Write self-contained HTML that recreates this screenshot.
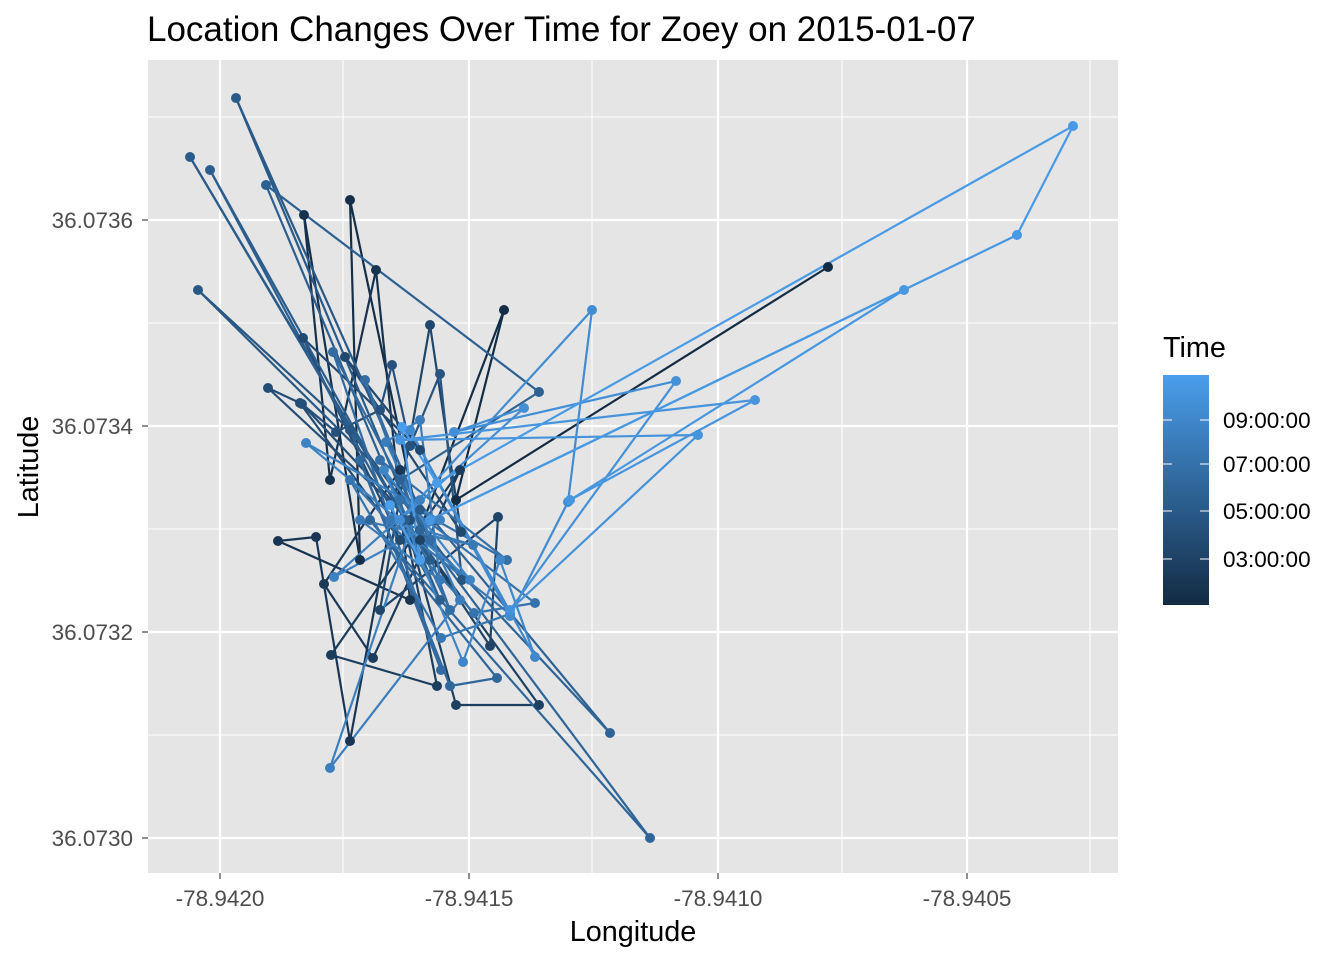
<!DOCTYPE html>
<html><head><meta charset="utf-8">
<style>
html,body{margin:0;padding:0;background:#fff;}
svg{display:block;font-family:"Liberation Sans",Arial,sans-serif;}
</style></head>
<body>
<svg id="c" width="1344" height="960" viewBox="0 0 1344 960" xmlns="http://www.w3.org/2000/svg">
<defs>
<linearGradient id="g" x1="0" y1="1" x2="0" y2="0">
<stop offset="0" stop-color="#132B43"/><stop offset="1" stop-color="#4A9EEC"/>
</linearGradient>
</defs>
<text x="147" y="41" font-size="35" fill="#000">Location Changes Over Time for Zoey on 2015-01-07</text>
<rect x="148" y="60" width="970" height="813" fill="#E5E5E5"/>
<g stroke="#fff" stroke-width="1.1">
<line x1="148" x2="1118" y1="117" y2="117"/><line x1="148" x2="1118" y1="323" y2="323"/>
<line x1="148" x2="1118" y1="529" y2="529"/><line x1="148" x2="1118" y1="735" y2="735"/>
<line y1="60" y2="873" x1="343" x2="343"/><line y1="60" y2="873" x1="592" x2="592"/>
<line y1="60" y2="873" x1="842" x2="842"/><line y1="60" y2="873" x1="1090" x2="1090"/>
</g>
<g stroke="#fff" stroke-width="2.2">
<line x1="148" x2="1118" y1="220" y2="220"/><line x1="148" x2="1118" y1="426" y2="426"/>
<line x1="148" x2="1118" y1="632" y2="632"/><line x1="148" x2="1118" y1="838" y2="838"/>
<line y1="60" y2="873" x1="220" x2="220"/><line y1="60" y2="873" x1="469" x2="469"/>
<line y1="60" y2="873" x1="718" x2="718"/><line y1="60" y2="873" x1="967" x2="967"/>
</g>
<g id="data"></g>
<g font-size="22.5" fill="#4D4D4D" text-anchor="end">
<text x="133" y="228">36.0736</text><text x="133" y="434">36.0734</text>
<text x="133" y="640">36.0732</text><text x="133" y="846">36.0730</text>
</g>
<g stroke="#333" stroke-width="1.1">
<line x1="142" x2="148" y1="220" y2="220"/><line x1="142" x2="148" y1="426" y2="426"/>
<line x1="142" x2="148" y1="632" y2="632"/><line x1="142" x2="148" y1="838" y2="838"/>
<line y1="873" y2="879" x1="220" x2="220"/><line y1="873" y2="879" x1="469" x2="469"/>
<line y1="873" y2="879" x1="718" x2="718"/><line y1="873" y2="879" x1="967" x2="967"/>
</g>
<g font-size="22.5" fill="#4D4D4D" text-anchor="middle">
<text x="220" y="906">-78.9420</text><text x="469" y="906">-78.9415</text>
<text x="718" y="906">-78.9410</text><text x="967" y="906">-78.9405</text>
</g>
<text x="633" y="941" font-size="28.8" text-anchor="middle">Longitude</text>
<text x="38" y="467" font-size="28.8" text-anchor="middle" transform="rotate(-90 38 467)">Latitude</text>
<text x="1163" y="357" font-size="28.8">Time</text>
<rect x="1163" y="375" width="46" height="230" fill="url(#g)"/>
<g stroke="#fff" stroke-width="1">
<line x1="1163" x2="1172" y1="420" y2="420"/><line x1="1200" x2="1209" y1="420" y2="420"/>
<line x1="1163" x2="1172" y1="464" y2="464"/><line x1="1200" x2="1209" y1="464" y2="464"/>
<line x1="1163" x2="1172" y1="511" y2="511"/><line x1="1200" x2="1209" y1="511" y2="511"/>
<line x1="1163" x2="1172" y1="559" y2="559"/><line x1="1200" x2="1209" y1="559" y2="559"/>
</g>
<g font-size="22.5" fill="#000">
<text x="1223" y="428">09:00:00</text><text x="1223" y="472">07:00:00</text>
<text x="1223" y="519">05:00:00</text><text x="1223" y="567">03:00:00</text>
</g>
</svg>
<script>
var P=[[828,267],[456,500],[504,310],[420,530],[350,200],[360,560],[304,215],[330,480],[376,270],[410,600],[278,541],[316,537],[350,741],[400,470],[324,584],[373,658],[460,470],[331,655],[437,686],[400,500],[456,705],[539,705],[420,540],[490,646],[498,517],[380,610],[430,325],[461,532],[345,357],[420,450],[303,338],[400,540],[300,403],[268,388],[410,520],[302,404],[336,432],[380,410],[392,365],[410,446],[440,374],[462,580],[350,430],[198,290],[420,510],[236,98],[430,560],[190,157],[405,520],[210,170],[440,600],[266,185],[539,392],[400,480],[610,733],[420,530],[650,838],[370,520],[497,678],[450,686],[360,460],[441,670],[333,352],[430,540],[365,380],[450,610],[380,460],[507,560],[400,500],[535,603],[474,613],[350,480],[441,638],[510,614],[390,520],[473,545],[360,520],[440,580],[420,420],[386,442],[460,600],[330,768],[420,500],[334,577],[440,520],[306,443],[470,580],[384,470],[463,662],[500,560],[535,657],[410,430],[510,616],[568,502],[592,310],[400,520],[524,408],[454,432],[676,381],[510,610],[698,435],[400,440],[755,400],[570,500],[904,290],[430,520],[1017,235],[1073,126],[437,483],[402,427],[420,560],[390,505]];
function col(t){var a=[0x13,0x2B,0x43],b=[0x4A,0x9E,0xEC];return "rgb("+a.map(function(v,i){return Math.round(v+(b[i]-v)*t)}).join(",")+")";}
var g=document.getElementById("data"),s="",n=P.length;
for(var i=0;i<n-1;i++){s+='<line x1="'+P[i][0]+'" y1="'+P[i][1]+'" x2="'+P[i+1][0]+'" y2="'+P[i+1][1]+'" stroke="'+col(i/(n-1))+'" stroke-width="2.2"/>';}
for(var i=0;i<n;i++){s+='<circle cx="'+P[i][0]+'" cy="'+P[i][1]+'" r="5" fill="'+col(i/(n-1))+'"/>';}
g.innerHTML=s;
</script>
</body></html>
